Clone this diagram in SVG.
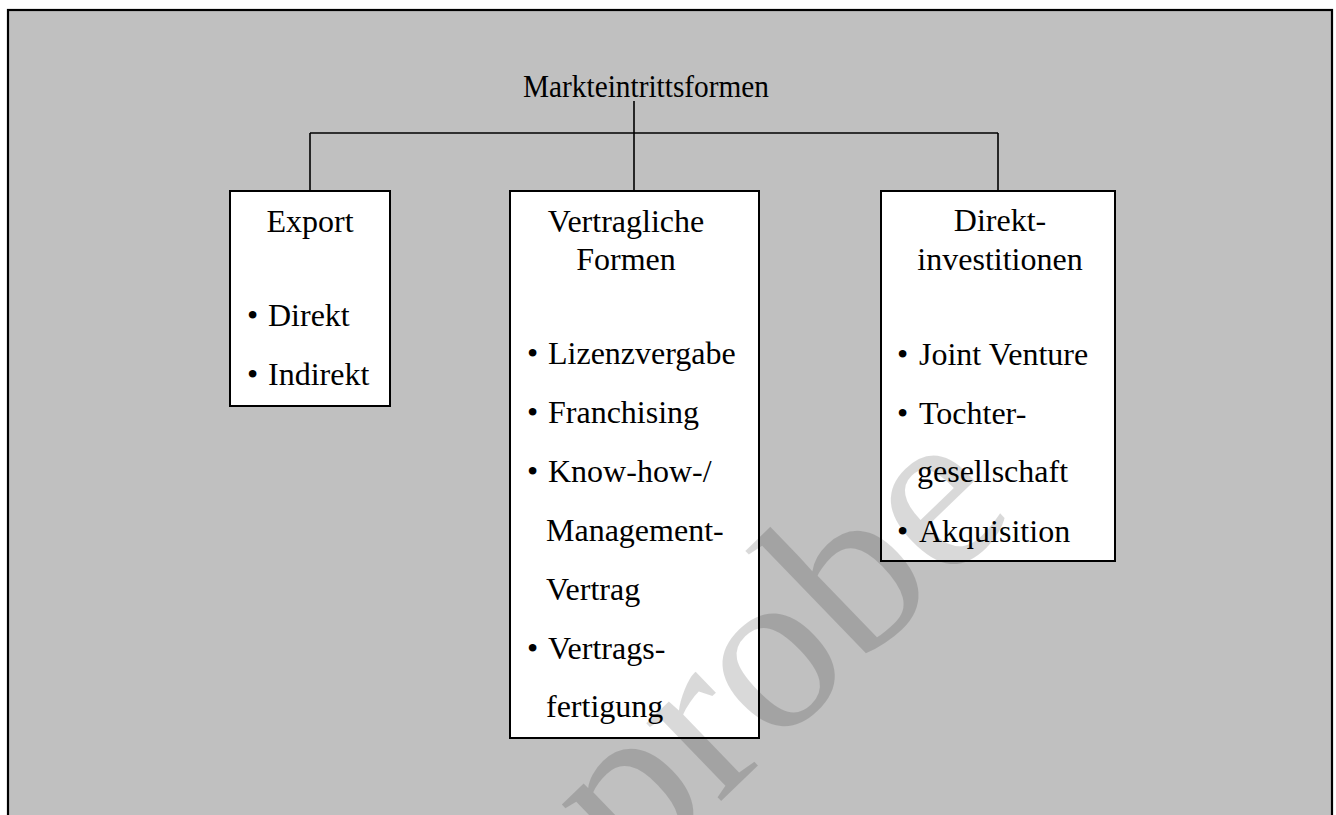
<svg xmlns="http://www.w3.org/2000/svg" width="1336" height="815" viewBox="0 0 1336 815">
<style>
.t{font-family:"Liberation Serif","Times New Roman",serif;font-size:32px;fill:#000}
.c{text-anchor:middle}
.box{fill:#fff;stroke:#000;stroke-width:2}
.ln{stroke:#000;stroke-width:1.6;fill:none}
.wm{font-family:"Liberation Serif","Times New Roman",serif;font-size:235px;fill:#000;fill-opacity:0.15}
</style>
<rect x="0" y="0" width="1336" height="815" fill="#fff"/>
<rect id="frame" x="8" y="10" width="1324" height="900" fill="#c0c0c0" stroke="#000" stroke-width="2.2"/>
<g id="title">
<text class="t" x="523" y="97" textLength="246" lengthAdjust="spacingAndGlyphs">Markteintrittsformen</text>
</g>
<g id="connectors">
<line class="ln" x1="634" y1="101" x2="634" y2="191"/>
<line class="ln" x1="310" y1="133" x2="998" y2="133"/>
<line class="ln" x1="310" y1="133" x2="310" y2="191"/>
<line class="ln" x1="998" y1="133" x2="998" y2="191"/>
</g>
<g id="export">
<rect class="box" x="230" y="191" width="160" height="215"/>
<text class="t c" x="310" y="232">Export</text>
<text class="t" x="247" y="326">•</text><text class="t" x="268" y="326">Direkt</text>
<text class="t" x="247" y="385">•</text><text class="t" x="268" y="385">Indirekt</text>
</g>
<g id="vertraglich">
<rect class="box" x="510" y="191" width="249" height="547"/>
<text class="t c" x="626" y="232">Vertragliche</text>
<text class="t c" x="626" y="270">Formen</text>
<text class="t" x="527" y="364">•</text><text class="t" x="548" y="364">Lizenzvergabe</text>
<text class="t" x="527" y="423">•</text><text class="t" x="548" y="423">Franchising</text>
<text class="t" x="527" y="482">•</text><text class="t" x="548" y="482">Know-how-/</text>
<text class="t" x="546" y="541">Management-</text>
<text class="t" x="546" y="600">Vertrag</text>
<text class="t" x="527" y="659">•</text><text class="t" x="548" y="659">Vertrags-</text>
<text class="t" x="546" y="717">fertigung</text>
</g>
<g id="direkt">
<rect class="box" x="881" y="191" width="234" height="370"/>
<text class="t c" x="1000" y="231">Direkt-</text>
<text class="t c" x="1000" y="270">investitionen</text>
<text class="t" x="897" y="365">•</text><text class="t" x="919" y="365">Joint Venture</text>
<text class="t" x="897" y="424">•</text><text class="t" x="919" y="424">Tochter-</text>
<text class="t" x="917" y="482">gesellschaft</text>
<text class="t" x="897" y="542">•</text><text class="t" x="919" y="542">Akquisition</text>
</g>
<g id="watermark">
<text class="wm" transform="translate(314,1194) rotate(-44)">Leseprobe</text>
</g>
</svg>
